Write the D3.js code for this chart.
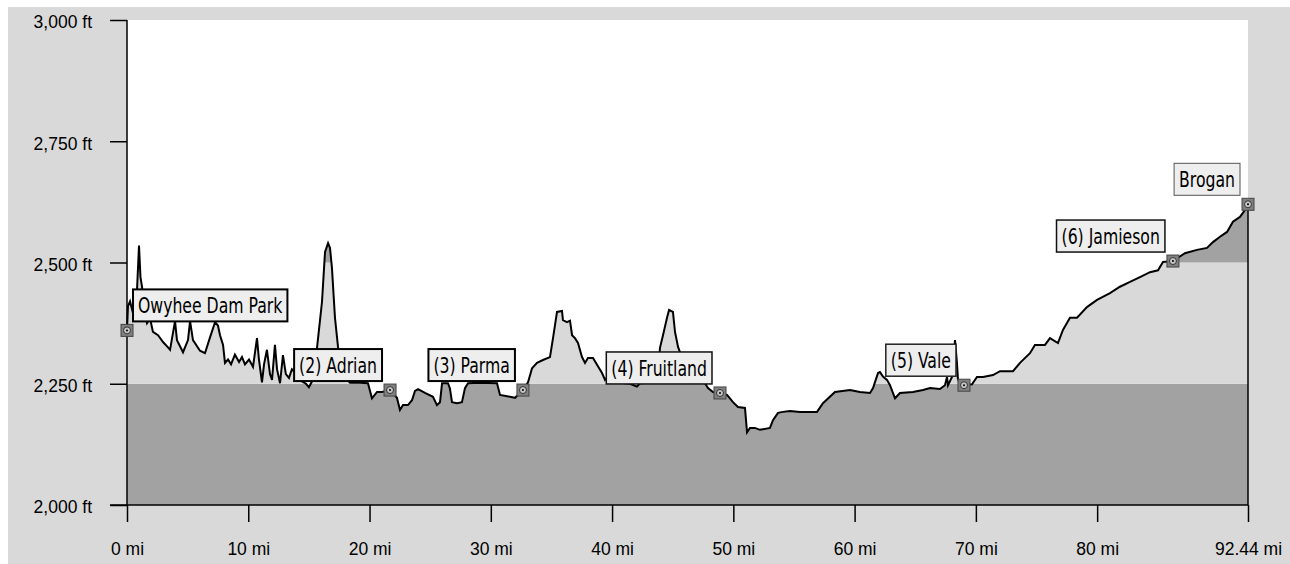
<!DOCTYPE html>
<html>
<head>
<meta charset="utf-8">
<script src="https://cdn.jsdelivr.net/npm/d3@7"></script>
<style>
  body { margin: 0; background: #fff; }
  svg { display: block; }
  .axis text { font-family: "Liberation Sans", Arial, sans-serif; font-size: 17.5px; fill: #000; }
  .lbl { font-family: "Liberation Sans Narrow", "DejaVu Sans Condensed", "Liberation Sans", sans-serif; font-size: 21px; fill: #000; }
</style>
</head>
<body>
<svg id="chart" width="1290" height="564"></svg>
<script>
// elevation profile, miles vs feet
var miles = [0, 0.08, 0.25, 0.5, 0.82, 0.99, 1.11, 1.24, 1.4, 1.65, 1.9, 2.14, 2.56, 2.97, 3.38, 3.55, 3.96, 4.12, 4.62, 5.03,
  5.2, 5.44, 6.02, 6.43, 6.84, 7.26, 7.5, 7.67, 7.92, 8.08, 8.33, 8.58, 8.9, 9.24, 9.48, 9.73, 10.06, 10.39, 10.72, 10.88,
  11.13, 11.3, 11.54, 11.79, 11.96, 12.2, 12.37, 12.62, 12.86, 13.1, 13.36, 13.6, 13.85, 14.1, 14.43, 14.76, 15.0, 15.26, 15.67, 16.08,
  16.33, 16.58, 16.74, 16.9, 17.15, 17.4, 17.73, 18.39, 19.21, 19.87, 20.2, 20.62, 21.03, 21.69, 22.26, 22.51, 22.76, 23.17, 23.5, 23.75,
  24.0, 24.57, 25.23, 25.56, 25.81, 25.98, 26.47, 26.63, 26.8, 27.21, 27.62, 27.87, 28.12, 29.11, 30.51, 30.76, 31.58, 32.0, 32.65, 33.07,
  33.4, 33.81, 34.3, 34.88, 35.13, 35.46, 35.87, 35.95, 36.28, 36.53, 36.7, 36.94, 37.19, 37.52, 37.77, 38.01, 38.43, 38.76, 39.17, 39.42,
  39.66, 39.99, 40.65, 41.48, 42.05, 42.3, 43.13, 43.79, 43.95, 44.2, 44.53, 44.7, 45.02, 45.19, 45.44, 45.6, 45.93, 46.43, 47.25, 47.66,
  47.91, 48.32, 48.9, 49.48, 49.97, 50.38, 50.96, 51.13, 51.37, 51.78, 52.2, 53.02, 53.27, 53.68, 54.09, 54.67, 55.5, 56.9, 57.39, 58.38,
  59.62, 60.44, 61.27, 61.52, 61.93, 62.09, 62.34, 62.67, 62.92, 63.33, 63.74, 64.81, 65.64, 66.22, 67.04, 67.45, 67.62, 67.7, 68.03, 68.28,
  68.44, 68.52, 68.69, 69.02, 69.68, 70.09, 70.59, 71.41, 71.99, 73.06, 73.64, 74.46, 74.87, 75.7, 76.11, 76.77, 77.18, 77.76, 78.34, 79.16,
  79.99, 81.06, 81.88, 82.71, 83.53, 84.36, 85.02, 85.43, 86.25, 87.24, 88.23, 89.06, 89.55, 90.13, 90.71, 91.2, 91.78, 92.19, 92.44];
var feet = [2360, 2410, 2420, 2395, 2440, 2535, 2470, 2450, 2400, 2375, 2385, 2357, 2350, 2336, 2325, 2320, 2379, 2340, 2315, 2340,
  2379, 2340, 2318, 2313, 2345, 2377, 2370, 2350, 2330, 2293, 2300, 2290, 2310, 2295, 2305, 2290, 2300, 2285, 2344, 2300,
  2253, 2290, 2320, 2270, 2258, 2330, 2280, 2251, 2309, 2270, 2262, 2280, 2274, 2260, 2255, 2250, 2243, 2255, 2324, 2419,
  2522, 2540, 2530, 2489, 2386, 2326, 2270, 2252, 2252, 2251, 2220, 2233, 2233, 2237, 2221, 2196, 2206, 2206, 2216, 2235,
  2239, 2231, 2223, 2206, 2212, 2251, 2251, 2240, 2212, 2210, 2212, 2241, 2251, 2252, 2251, 2227, 2223, 2221, 2237, 2253,
  2282, 2293, 2299, 2305, 2344, 2398, 2400, 2381, 2377, 2380, 2350, 2344, 2334, 2305, 2293, 2303, 2303, 2289, 2272, 2258,
  2265, 2255, 2252, 2250, 2244, 2251, 2252, 2265, 2324, 2350, 2386, 2402, 2398, 2357, 2326, 2315, 2262, 2252, 2252, 2251,
  2241, 2233, 2231, 2227, 2212, 2202, 2200, 2150, 2159, 2159, 2155, 2159, 2175, 2190, 2192, 2194, 2192, 2192, 2210, 2233,
  2237, 2233, 2231, 2241, 2272, 2274, 2265, 2258, 2247, 2220, 2231, 2233, 2237, 2241, 2239, 2247, 2264, 2247, 2264, 2340,
  2293, 2260, 2247, 2247, 2249, 2264, 2264, 2268, 2276, 2276, 2293, 2313, 2330, 2330, 2344, 2334, 2361, 2386, 2386, 2408,
  2423, 2437, 2450, 2460, 2470, 2480, 2484, 2501, 2503, 2519, 2526, 2530, 2542, 2553, 2563, 2584, 2594, 2608, 2622];

var stopNames = ["Owyhee Dam Park", "(2) Adrian", "(3) Parma", "(4) Fruitland", "(5) Vale", "(6) Jamieson", "Brogan"];
var stopMiles = [0, 21.69, 32.65, 48.9, 69.02, 86.25, 92.44];
var stopFeet = [2360, 2237, 2237, 2231, 2247, 2503, 2620];

var yTicks = [2000, 2250, 2500, 2750, 3000];
var xTicks = [0, 10, 20, 30, 40, 50, 60, 70, 80, 92.44];
var xTickLabels = ["0 mi", "10 mi", "20 mi", "30 mi", "40 mi", "50 mi", "60 mi", "70 mi", "80 mi", "92.44 mi"];

var pLeft = 127, pRight = 1248, pTop = 20, pBottom = 505;
var light = "#d9d9d9", dark = "#a2a2a2";

var svg = d3.select("#chart");

var x = d3.scaleLinear().domain([0, 92.44]).range([pLeft, pRight]);
var y = d3.scaleLinear().domain([2000, 3000]).range([pBottom, pTop]);

var pts = miles.map(function(m, i){ return [m, feet[i]]; });

// backdrop
svg.append("rect").attr("x", 8).attr("y", 7).attr("width", 1282).attr("height", 557).attr("fill", light);
svg.append("rect").attr("x", pLeft).attr("y", pTop).attr("width", pRight - pLeft).attr("height", pBottom - pTop).attr("fill", "#fff");

var area = d3.area().x(function(d){ return x(d[0]); }).y0(y(2000)).y1(function(d){ return y(d[1]); });
var line = d3.line().x(function(d){ return x(d[0]); }).y(function(d){ return y(d[1]); });

svg.append("clipPath").attr("id", "under").append("path").attr("d", area(pts));

// bands of 250 ft, alternating shade
var bands = svg.append("g").attr("clip-path", "url(#under)");
bands.selectAll("rect").data(yTicks.slice(0, -1)).enter().append("rect")
  .attr("x", pLeft).attr("width", pRight - pLeft)
  .attr("y", function(d){ return y(d + 250); })
  .attr("height", function(d){ return y(d) - y(d + 250); })
  .attr("fill", function(d, i){ return i % 2 == 0 ? dark : light; });

svg.append("path").attr("d", line(pts)).attr("fill", "none").attr("stroke", "#000").attr("stroke-width", 2);
svg.append("line").attr("x1", pRight).attr("x2", pRight).attr("y1", y(feet[feet.length - 1])).attr("y2", pBottom)
  .attr("stroke", "#000").attr("stroke-width", 1.5);

// axes
var yAxis = d3.axisLeft(y).tickValues(yTicks).tickSize(17).tickSizeOuter(0).tickPadding(18)
  .tickFormat(function(d){ return d3.format(",")(d) + " ft"; });
var gy = svg.append("g").attr("class", "axis").attr("transform", "translate(" + pLeft + ",0)").call(yAxis);
gy.select(".domain").remove();
gy.selectAll("text").attr("dy", "0.45em");

var xAxis = d3.axisBottom(x).tickValues(xTicks).tickSize(17).tickSizeOuter(0).tickPadding(21)
  .tickFormat(function(d, i){ return xTickLabels[i]; });
var gx = svg.append("g").attr("class", "axis").attr("transform", "translate(0," + pBottom + ")").call(xAxis);
gx.select(".domain").remove();
gx.selectAll(".tick line").attr("stroke-width", 1.5);
gy.selectAll(".tick line").attr("stroke-width", 1.5);

svg.append("line").attr("x1", pLeft).attr("x2", pLeft).attr("y1", pTop).attr("y2", pBottom).attr("stroke", "#000").attr("stroke-width", 1.5);
svg.append("line").attr("x1", 110).attr("x2", pRight).attr("y1", pBottom).attr("y2", pBottom).attr("stroke", "#000").attr("stroke-width", 1.5);

// waypoint markers
var stops = stopNames.map(function(n, i){ return {name: n, m: stopMiles[i], f: stopFeet[i]}; });
var mk = svg.selectAll(".mk").data(stops).enter().append("g")
  .attr("transform", function(d){ return "translate(" + x(d.m) + "," + y(d.f) + ")"; });
mk.append("rect").attr("x", -6).attr("y", -6).attr("width", 12).attr("height", 12)
  .attr("fill", "#808080").attr("stroke", "#444");
mk.append("circle").attr("r", 3.5).attr("fill", "#c4c4c4").attr("stroke", "#333");
mk.append("circle").attr("r", 1).attr("fill", "#000");

// label boxes, first sits to the right of its marker, rest to the left
var boxStroke = [2, 2, 2, 1.5, 1.5, 1.5, 1];
var boxColor = ["#000", "#000", "#000", "#111", "#222", "#111", "#555"];
var boxH = 32, padX = 5, squeeze = 0.83;
stops.forEach(function(d, i){
  var g = svg.append("g");
  var t = g.append("text").attr("class", "lbl").text(d.name);
  var w = t.node().getComputedTextLength() * squeeze + padX * 2;
  var px = x(d.m), py = y(d.f);
  var bx = i == 0 ? px + 6 : px - 8 - w;
  var by = py - 9 - boxH;
  g.insert("rect", "text").attr("x", bx).attr("y", by).attr("width", w).attr("height", boxH)
    .attr("fill", "#eeeeee").attr("stroke", boxColor[i]).attr("stroke-width", boxStroke[i]);
  t.attr("transform", "translate(" + (bx + padX) + "," + (by + boxH / 2) + ") scale(" + squeeze + ",1)")
    .attr("dy", "0.36em");
});
</script>
</body>
</html>
